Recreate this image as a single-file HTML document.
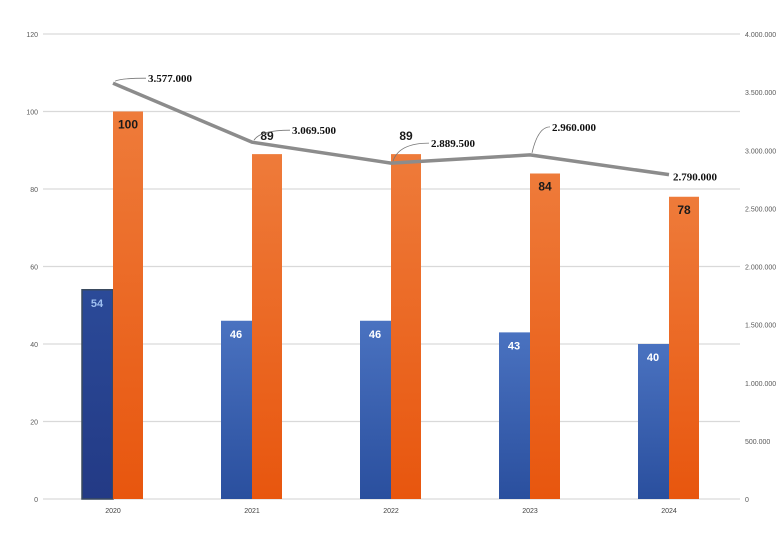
<!DOCTYPE html>
<html><head><meta charset="utf-8"><style>
body{margin:0;background:#fff;}
svg{display:block;font-family:"Liberation Sans",sans-serif;}
</style></head><body>
<svg id="chart" width="782" height="552">
<defs>
<linearGradient id="gb" x1="0" y1="0" x2="0" y2="1"><stop offset="0" stop-color="#4a72c0"/><stop offset="1" stop-color="#2a4f9e"/></linearGradient>
<linearGradient id="gb0" x1="0" y1="0" x2="0" y2="1"><stop offset="0" stop-color="#2b4a98"/><stop offset="1" stop-color="#233a85"/></linearGradient>
<linearGradient id="go" x1="0" y1="0" x2="0" y2="1"><stop offset="0" stop-color="#ee7b3a"/><stop offset="1" stop-color="#e8560e"/></linearGradient>
</defs>
<g id="grid"></g><g id="bars"></g><g id="line"></g><g id="labels"></g>
</svg>
<script>
const categories=["2020","2021","2022","2023","2024"];
const blueValues=[54,46,46,43,40];
const orangeValues=[100,89,89,84,78];
const lineValues=[3577000,3069500,2889500,2960000,2790000];
const lineLabels=["3.577.000","3.069.500","2.889.500","2.960.000","2.790.000"];
const leftTicks=[0,20,40,60,80,100,120];
const rightTicks=["0","500.000","1.000.000","1.500.000","2.000.000","2.500.000","3.000.000","3.500.000","4.000.000"];
const NS="http://www.w3.org/2000/svg";
const y0=499,yTop=34;
const yL=v=>y0-v/120*(y0-yTop);
const yR=v=>y0-v/4000000*(y0-yTop);
const xC=i=>113+i*139;
function mk(t,a,p,txt){const e=document.createElementNS(NS,t);for(const k in a)e.setAttribute(k,a[k]);if(txt!==undefined)e.textContent=txt;document.getElementById(p).appendChild(e);return e;}
leftTicks.forEach(v=>{
 const l=mk("line",{x1:43,x2:740,y1:yL(v),y2:yL(v),stroke:"#d9d9d9","stroke-width":1.2},"grid");
 
 
 const t=mk("text",{x:38,y:yL(v)+3,"font-size":7,fill:"#595959","text-anchor":"end"},"grid",String(v));
 
 
});
rightTicks.forEach((s,i)=>{
 const t=mk("text",{x:745,y:yR(i*500000)+3,"font-size":7,fill:"#595959"},"grid",s);
 
 
});
categories.forEach((c,i)=>{
 const x=xC(i);
 const t=mk("text",{x:x,y:513,"font-size":7,fill:"#404040","text-anchor":"middle"},"grid",c);
 
 
 const b=mk("rect",{x:x-31,y:yL(blueValues[i]),width:31,height:y0-yL(blueValues[i]),fill:i==0?"url(#gb0)":"url(#gb)",stroke:i==0?"#3a4a5e":"none","stroke-width":1.5},"bars");
 
 
 const o=mk("rect",{x:x,y:yL(orangeValues[i]),width:30,height:y0-yL(orangeValues[i]),fill:"url(#go)"},"bars");
 
 
 const bl=mk("text",{x:x-16,y:yL(blueValues[i])+17,"font-size":11,"font-weight":"bold",fill:i==0?"#9fc0f0":"#fff","text-anchor":"middle"},"labels",String(blueValues[i]));
 
 
 const inside=(i==0||i>=3);
 const ol=mk("text",{x:x+15,y:inside?yL(orangeValues[i])+17:yL(orangeValues[i])-14,"font-size":12,"font-weight":"bold",fill:"#1a1a1a","text-anchor":"middle"},"labels",String(orangeValues[i]));
 
 
});
const pts=lineValues.map((v,i)=>xC(i)+","+yR(v)).join(" ");
const pl=mk("polyline",{points:pts,fill:"none",stroke:"#8c8c8c","stroke-width":3.5,"stroke-linejoin":"round"},"line");


const offs=[[35,-5],[40,-12],[40,-20],[22,-28],[4,2]];
lineValues.forEach((v,i)=>{
 const x=xC(i),y=yR(v),lx=x+offs[i][0],ly=y+offs[i][1];
 if(i!=4){const ld=mk("path",{d:`M${x+2},${y-2} Q${x+8},${ly} ${lx-2},${ly}`,fill:"none",stroke:"#777","stroke-width":0.8},"labels");
 
 }
 const t=mk("text",{x:lx,y:ly+4,"font-size":11,"font-weight":"bold","font-family":"Liberation Serif, serif",fill:"#111"},"labels",lineLabels[i]);
 
 
});
</script>
</body></html>
